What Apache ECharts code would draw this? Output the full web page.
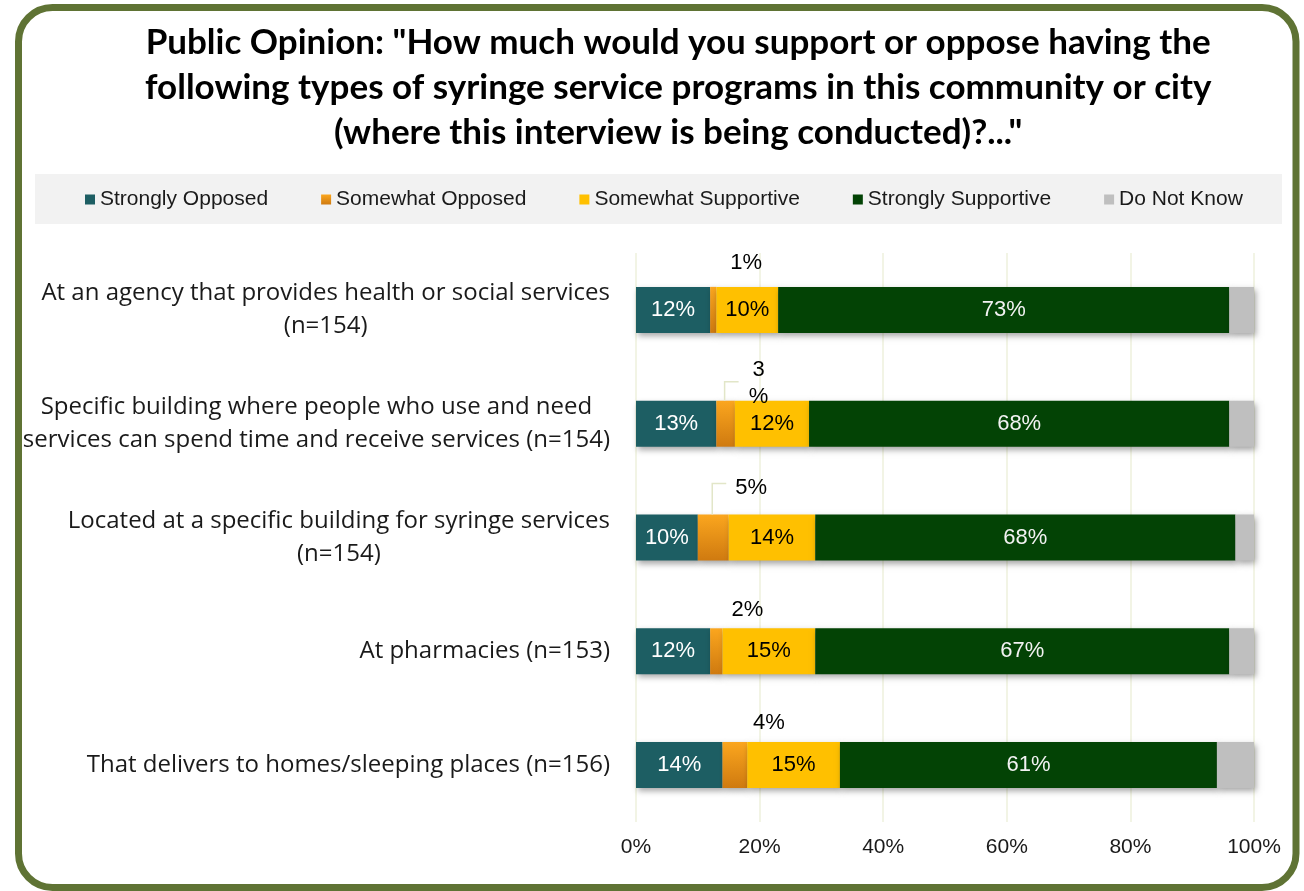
<!DOCTYPE html>
<html>
<head>
<meta charset="utf-8">
<script src="https://cdn.jsdelivr.net/npm/echarts@6/dist/echarts.min.js"></script>
<style>
html,body{margin:0;padding:0;background:#fff;}
#chart{width:1304px;height:891px;}
</style>
</head>
<body>
<div id="chart"></div>
<script>
const titleLines = [
  'Public Opinion: "How much would you support or oppose having the',
  'following types of syringe service programs in this community or city',
  '(where this interview is being conducted)?..."'
];
const categories = [
  'At an agency that provides health or social services\n(n=154)',
  'Specific building where people who use and need\nservices can spend time and receive services (n=154)',
  'Located at a specific building for syringe services\n(n=154)',
  'At pharmacies (n=153)',
  'That delivers to homes/sleeping places (n=156)'
];
const seriesNames = ['Strongly Opposed', 'Somewhat Opposed', 'Somewhat Supportive', 'Strongly Supportive', 'Do Not Know'];
const stronglyOpposed    = [12, 13, 10, 12, 14];
const somewhatOpposed    = [1, 3, 5, 2, 4];
const somewhatSupportive = [10, 12, 14, 15, 15];
const stronglySupportive = [73, 68, 68, 67, 61];
const doNotKnow          = [4, 4, 3, 4, 6];
const xTicks = [0, 20, 40, 60, 80, 100];

// styling: offsets of the small "Somewhat Opposed" labels and their leader lines
const smallLabelShift = [[33, -5], [33, 15], [38, -8], [31, 0], [34, -1]];
const leaderRise = [0, 19, 31, 0, 0];
const leaderRun  = [0, 14, 14, 0, 0];

const chart = echarts.init(document.getElementById('chart'));
const FONT = 'Liberation Sans, Arial, sans-serif';
const pct = p => p.value + '%';
const shadow = {shadowColor: 'rgba(0,0,0,0.35)', shadowBlur: 6, shadowOffsetX: 2, shadowOffsetY: 3};
const insideLabel = (color) => ({show: true, position: 'inside', formatter: pct, color: color,
  fontFamily: FONT, fontSize: 22});

const leaderData = [];
somewhatOpposed.forEach((v, i) => {
  if (leaderRise[i] > 0) leaderData.push([stronglyOpposed[i] + v / 2, i, leaderRise[i], leaderRun[i]]);
});

const option = {
  animation: false,
  backgroundColor: '#fff',
  title: {
    text: titleLines.map(l => '{c|' + l + '}').join('\n'),
    left: 145,
    top: 20,
    padding: 0,
    textStyle: {
      fontFamily: 'Lato, "Open Sans", sans-serif', fontWeight: 'bold', fontSize: 35, lineHeight: 45, color: '#000',
      rich: {c: {align: 'center', fontFamily: 'Lato, "Open Sans", sans-serif', fontWeight: 'bold', fontSize: 35, lineHeight: 45, color: '#000'}}
    }
  },
  graphic: [
    {type: 'rect', z: -10, shape: {x: 35, y: 174, width: 1247, height: 50}, style: {fill: '#f2f2f2'}},
    {type: 'rect', z: 100, shape: {x: 18.5, y: 7.5, width: 1277.5, height: 880, r: 34}, style: {fill: 'none', stroke: '#5f7334', lineWidth: 7}}
  ],
  legend: {
    data: seriesNames,
    left: 85,
    top: 189,
    padding: 0,
    itemGap: 53,
    itemWidth: 10,
    itemHeight: 10,
    icon: 'rect',
    textStyle: {fontFamily: FONT, fontSize: 21, color: '#1a1a1a'}
  },
  grid: {left: 636, right: 50, top: 253, bottom: 69, containLabel: false},
  xAxis: {
    type: 'value', min: 0, max: 100, interval: 20,
    axisLine: {show: false}, axisTick: {show: false},
    splitLine: {lineStyle: {color: '#eef0dc', width: 1.5}},
    axisLabel: {formatter: v => xTicks.includes(v) ? v + '%' : '', fontFamily: FONT, fontSize: 21, color: '#1a1a1a', margin: 15}
  },
  yAxis: {
    type: 'category', inverse: true, data: categories,
    axisLine: {show: false}, axisTick: {show: false},
    axisLabel: {
      margin: 26,
      formatter: v => v.split('\n').map(l => '{c|' + l + '}').join('\n'),
      rich: {c: {align: 'center', fontFamily: '"Open Sans", sans-serif', fontSize: 24, lineHeight: 33, color: '#1a1a1a'}}
    }
  },
  series: [
    {name: seriesNames[0], type: 'bar', stack: 'a', barWidth: 46, data: stronglyOpposed,
     itemStyle: Object.assign({color: '#1d5e63'}, shadow), label: insideLabel('#ffffff')},
    {name: seriesNames[1], type: 'bar', stack: 'a', barWidth: 46, data: somewhatOpposed,
     itemStyle: Object.assign({color: new echarts.graphic.LinearGradient(0, 0, 0, 1, [{offset: 0, color: '#fba61e'}, {offset: 1, color: '#cf7a10'}])}, shadow),
     label: {show: true, position: 'top', distance: 5, color: '#000', fontFamily: FONT, fontSize: 22,
       formatter: p => p.dataIndex === 1 ? p.value + '\n%' : p.value + '%', lineHeight: 27},
     labelLayout: p => ({dx: smallLabelShift[p.dataIndex][0], dy: smallLabelShift[p.dataIndex][1]})
    },
    {name: seriesNames[2], type: 'bar', stack: 'a', barWidth: 46, data: somewhatSupportive,
     itemStyle: Object.assign({color: '#ffc000'}, shadow), label: insideLabel('#000000')},
    {name: seriesNames[3], type: 'bar', stack: 'a', barWidth: 46, data: stronglySupportive,
     itemStyle: Object.assign({color: '#034305'}, shadow), label: insideLabel('#f2f2f2')},
    {name: seriesNames[4], type: 'bar', stack: 'a', barWidth: 46, data: doNotKnow,
     itemStyle: Object.assign({color: '#bfbfbf'}, shadow), label: {show: false}},
    {name: 'leader', type: 'custom', data: leaderData, z: 5, silent: true,
     renderItem: (params, api) => {
       const p = api.coord([api.value(0), api.value(1)]);
       const top = p[1] - 23;
       const rise = api.value(2), run = api.value(3);
       return {type: 'polyline', shape: {points: [[p[0] - 1, top], [p[0] - 1, top - rise], [p[0] - 1 + run, top - rise]]},
               style: {stroke: '#e2e6c8', lineWidth: 1.5, fill: null}};
     }}
  ]
};
chart.setOption(option);
</script>
</body>
</html>
